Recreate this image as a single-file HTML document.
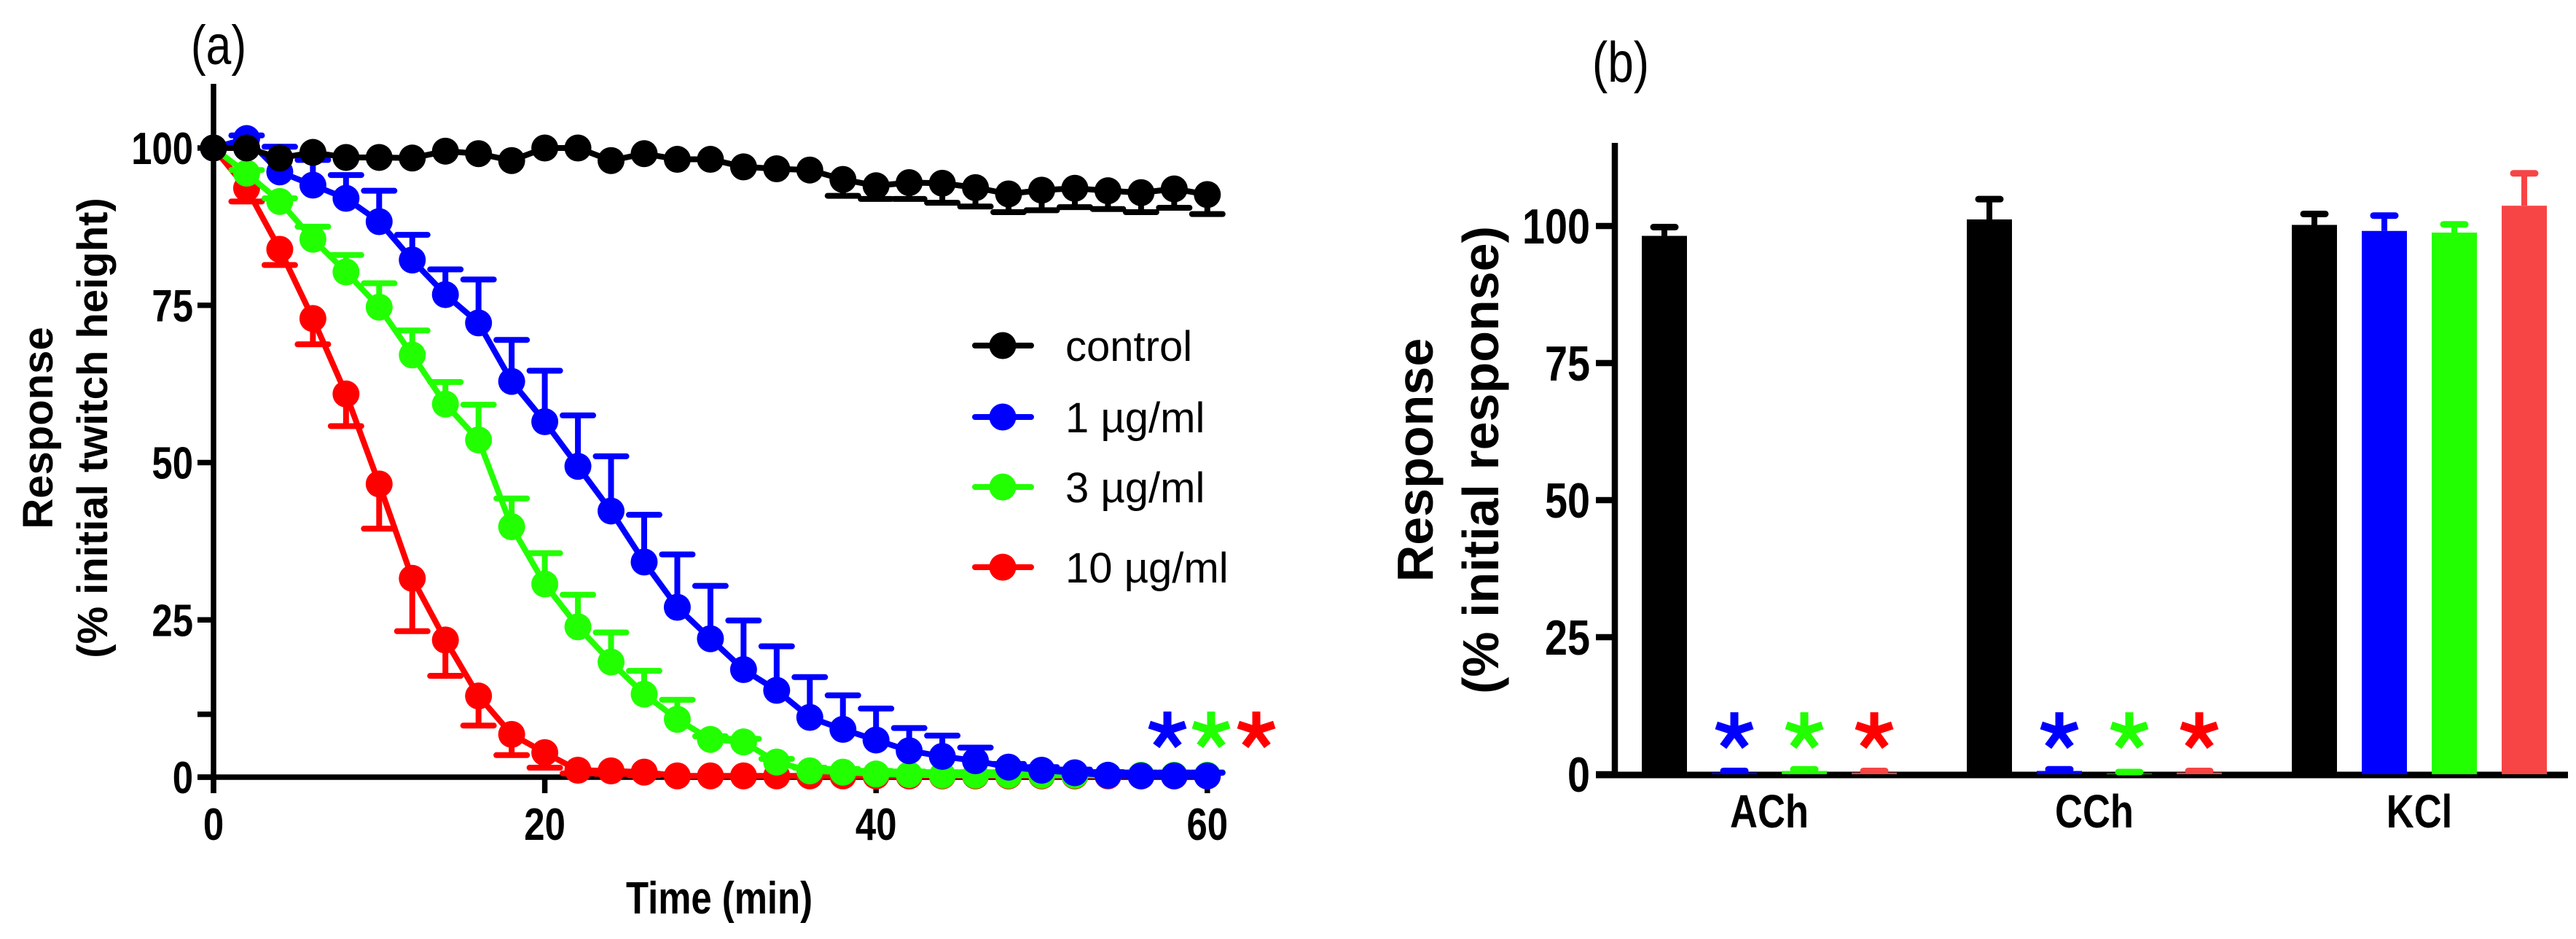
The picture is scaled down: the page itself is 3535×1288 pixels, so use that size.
<!DOCTYPE html>
<html><head><meta charset="utf-8"><style>
html,body{margin:0;padding:0;background:#fff;}
svg{display:block;}
.nb{font-family:"Liberation Sans Narrow","Liberation Sans",sans-serif;font-weight:bold;}
.nr{font-family:"Liberation Sans Narrow","Liberation Sans",sans-serif;}
.sb{font-family:"Liberation Sans",sans-serif;font-weight:bold;}
.sr{font-family:"Liberation Sans",sans-serif;}
</style></head><body>
<svg id="fig" width="3535" height="1288" viewBox="0 0 3535 1288" xmlns="http://www.w3.org/2000/svg">
<g id="pa"></g>
<g id="pb"></g>
</svg>
<script>
// ---------- Panel (a) data ----------
const times = [0,2,4,6,8,10,12,14,16,18,20,22,24,26,28,30,32,34,36,38,40,42,44,46,48,50,52,54,56,58,60];
const controlVals = [100,100,98.4,99.3,98.5,98.5,98.4,99.5,99.1,98,100,100,98,99.1,98.2,98.2,97,96.7,96.5,95,94,94.5,94.4,93.7,92.7,93.3,93.6,93.2,92.9,93.5,92.6];
const controlErr  = [0,0,0,0,0,0,0,0,0,0,0,0,0,0,0,0,0,0,0,2.6,2.1,2.6,3.1,3,2.9,3.2,3,2.9,3.1,3,3.1];
const blueVals = [100,101.5,96.2,94.1,92,88.3,82.2,76.7,72.2,62.9,56.5,49.4,42.3,34.2,27,22,17.1,13.8,9.5,7.6,5.9,4.2,3.3,2.6,1.6,1.1,0.7,0.3,0.2,0.2,0.2];
const blueErr  = [0,0.5,4,4,3.7,4.9,4,4,6.9,6.6,8.1,8.1,8.7,7.5,8.4,8.4,7.8,7,6.4,5.4,5,3.6,3.3,2.1,0.5,0.5,0.5,0.5,0.5,0.5,0.5];
const greenVals = [100,96,91.5,85.5,80.3,74.7,67.1,59.3,53.6,39.8,30.7,23.9,18.3,13.2,9.2,6,5.6,2.4,1,0.8,0.5,0.4,0.3,0.3,0.3,0.3,0.3,0.3,0.3,0.3,0.3];
const greenErr  = [0,0.5,0.5,2,2.7,3.8,3.9,3.5,5.6,4.5,4.9,5.1,4.7,3.7,3.1,0.5,0.5,0.5,0.5,0.5,0.5,0.5,0.5,0.5,0.5,0.5,0.5,0.5,0.5,0.5,0.5];
const redVals = [100,93.6,83.9,72.9,60.9,46.6,31.6,21.8,12.9,6.8,3.9,1.1,1,0.8,0.2,0.2,0.2,0.2,0.2,0.2,0.2,0.2,0.2,0.2,0.2,0.2,0.2,0.2,0.2,0.2,0.2];
const redErr  = [0,2.1,2.5,4.1,5.1,7.1,8.4,5.7,4.7,3.3,2.4,0.5,0.5,0.5,0,0,0,0,0,0,0,0,0,0,0,0,0,0,0,0,0];
const xTicksA = [0,20,40,60];
const yTicksA = [0,25,50,75,100];
const yMinorA = [10];
const legendLabels = ["control","1 \u00b5g/ml","3 \u00b5g/ml","10 \u00b5g/ml"];

// ---------- Panel (b) data ----------
const categories = ["ACh","CCh","KCl"];
const seriesNames = ["control","1 ug/ml","3 ug/ml","10 ug/ml"];
const achVals = [98.2,0.3,0.6,0.3];
const achErr  = [1.6,0.3,0.3,0.3];
const cchVals = [101.2,0.6,0.1,0.3];
const cchErr  = [3.7,0.3,0.3,0.3];
const kclVals = [100.2,99.1,98.8,103.7];
const kclErr  = [2.0,2.8,1.5,5.9];
const sigB = [[0,1,1,1],[0,1,1,1],[0,0,0,0]];
const yTicksB = [0,25,50,75,100];

const NS = "http://www.w3.org/2000/svg";
function mk(parent, tag, attrs, text){
  const e = document.createElementNS(NS, tag);
  for (const k in attrs) e.setAttribute(k, attrs[k]);
  if (text !== undefined) e.textContent = text;
  parent.appendChild(e);
  return e;
}
const pa = document.getElementById('pa');
const pb = document.getElementById('pb');

function star(parent, cx, cy, color, name){
  const g = mk(parent,'g',{});
  
  
  const L = 26;
  for (let k=0;k<5;k++){
    const a = -Math.PI/2 + k*2*Math.PI/5;
    mk(g,'line',{x1:cx,y1:cy,x2:cx+L*Math.cos(a),y2:cy+L*Math.sin(a),stroke:color,'stroke-width':11});
  }
}

// ===== Panel A =====
const xA = t => 293 + t*22.73;
const yA = v => 1066 - v*8.63;
const colors = ['#000000','#0000ff','#22ff00','#ff0000'];

let e = mk(pa,'line',{x1:293,y1:115,x2:293,y2:1088,stroke:'#000','stroke-width':7.5});


e = mk(pa,'line',{x1:272,y1:yA(0),x2:1672,y2:yA(0),stroke:'#000','stroke-width':7.5});


yTicksA.concat(yMinorA).forEach(v=>{
  const t = mk(pa,'line',{x1:271,y1:yA(v),x2:293,y2:yA(v),stroke:'#000','stroke-width':7.5});
  
  
});
yTicksA.forEach(v=>{
  const t = mk(pa,'text',{x:265,y:yA(v)+22,'text-anchor':'end','font-size':62,class:'nb'},String(v));
  
  
});
xTicksA.forEach(v=>{
  const t = mk(pa,'line',{x1:xA(v),y1:yA(0),x2:xA(v),y2:yA(0)+22,stroke:'#000','stroke-width':7.5});
  
  
  const l = mk(pa,'text',{x:xA(v),y:1152,'text-anchor':'middle','font-size':62,class:'nb'},String(v));
  
  
});
e = mk(pa,'text',{x:987,y:1253,'text-anchor':'middle','font-size':62,class:'nb'},'Time (min)');


e = mk(pa,'text',{x:0,y:0,'text-anchor':'middle','font-size':58,class:'sb',transform:'translate(72,587) rotate(-90)'},'Response');


e = mk(pa,'text',{x:0,y:0,'text-anchor':'middle','font-size':58,class:'sb',transform:'translate(147,587) rotate(-90)'},'(% initial twitch height)');


e = mk(pa,'text',{x:300,y:88,'text-anchor':'middle','font-size':76,class:'nr'},'(a)');



function series(vals, errs, dir, color, name){
  const g = mk(pa,'g',{});
  
  
  vals.forEach((v,i)=>{
    if (!errs[i]) return;
    const ye = yA(v + dir*errs[i]);
    mk(g,'line',{x1:xA(times[i]),y1:yA(v),x2:xA(times[i]),y2:ye,stroke:color,'stroke-width':8});
    const c = mk(g,'line',{x1:xA(times[i])-21,y1:ye,x2:xA(times[i])+21,y2:ye,stroke:color,'stroke-width':8,'stroke-linecap':'round'});
    
    
  });
  const pts = vals.map((v,i)=>xA(times[i])+','+yA(v)).join(' ');
  const pl = mk(g,'polyline',{points:pts,fill:'none',stroke:color,'stroke-width':8,'stroke-linejoin':'round'});
  
  
  vals.forEach((v,i)=>{
    const c = mk(g,'circle',{cx:xA(times[i]),cy:yA(v),r:18.5,fill:color});
    
    
  });
}
series(redVals, redErr, -1, colors[3], 'red-10ugml');
series(greenVals, greenErr, 1, colors[2], 'green-3ugml');
series(blueVals, blueErr, 1, colors[1], 'blue-1ugml');
series(controlVals, controlErr, -1, colors[0], 'control');

const legY = [474,572,668,778];
legendLabels.forEach((lab,i)=>{
  const g = mk(pa,'g',{});
  
  
  mk(g,'line',{x1:1338,y1:legY[i],x2:1415,y2:legY[i],stroke:colors[i],'stroke-width':8,'stroke-linecap':'round'});
  mk(g,'circle',{cx:1376,cy:legY[i],r:18.5,fill:colors[i]});
  mk(g,'text',{x:1462,y:legY[i]+21,'font-size':58,class:'sr'},lab);
});
[[1602,colors[1]],[1662,colors[2]],[1724,colors[3]]].forEach(s=>star(pa,s[0],1002,s[1],'significance-star-a'));

// ===== Panel B =====
const yB = v => 1062 - v*7.52;
const groupX = g => 2284 + g*446;
const barX = (g,i) => groupX(g) + i*96;
const barColors = ['#000000','#0000ff','#22ff00','#f74545'];
const starColors = ['#000000','#0000ff','#22ff00','#ff0000'];
const allVals = [achVals, cchVals, kclVals];
const allErr = [achErr, cchErr, kclErr];

e = mk(pb,'line',{x1:2216,y1:196,x2:2216,y2:1066,stroke:'#000','stroke-width':8.5});


e = mk(pb,'line',{x1:2190,y1:yB(0)+1,x2:3524,y2:yB(0)+1,stroke:'#000','stroke-width':9});


yTicksB.forEach(v=>{
  const t = mk(pb,'line',{x1:2190,y1:yB(v),x2:2216,y2:yB(v),stroke:'#000','stroke-width':8.5});
  
  
  const l = mk(pb,'text',{x:2182,y:yB(v)+24,'text-anchor':'end','font-size':68,class:'nb'},String(v));
  
  
});
e = mk(pb,'text',{x:0,y:0,'text-anchor':'middle','font-size':70,class:'sb',transform:'translate(1966,631) rotate(-90)'},'Response');


e = mk(pb,'text',{x:0,y:0,'text-anchor':'middle','font-size':70,class:'sb',transform:'translate(2056,631) rotate(-90)'},'(% initial response)');


e = mk(pb,'text',{x:2224,y:112,'text-anchor':'middle','font-size':78,class:'nr'},'(b)');



categories.forEach((cat,g)=>{
  allVals[g].forEach((v,i)=>{
    const cx = barX(g,i);
    const top = yB(v), ye = yB(v+allErr[g][i]);
    const h = Math.max(yB(0)-top, 0);
    const r = mk(pb,'rect',{x:cx-31,y:top,width:62,height:h,fill:barColors[i]});
    
    
    mk(pb,'line',{x1:cx,y1:top,x2:cx,y2:ye,stroke:barColors[i],'stroke-width':8});
    const c = mk(pb,'line',{x1:cx-15,y1:ye,x2:cx+15,y2:ye,stroke:barColors[i],'stroke-width':9,'stroke-linecap':'round'});
    
    
    if (sigB[g][i]) star(pb,cx,1003,starColors[i],'significance-star-b');
  });
  const l = mk(pb,'text',{x:groupX(g)+144,y:1135,'text-anchor':'middle','font-size':64,class:'nb'},cat);
  
  
});

// emulate condensed font
document.querySelectorAll('text.nb, text.nr').forEach(t=>{
  const w = t.getComputedTextLength();
  if (w > 0) {
    t.setAttribute('textLength', (w*0.82).toFixed(1));
    t.setAttribute('lengthAdjust', 'spacingAndGlyphs');
  }
});
</script>
</body></html>
